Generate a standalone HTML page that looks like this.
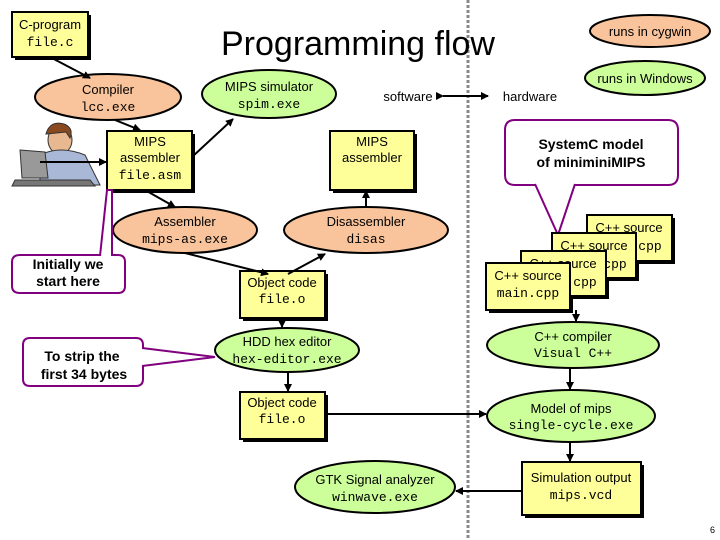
<!DOCTYPE html>
<html><head><meta charset="utf-8"><style>
body{margin:0;background:#fff}
svg{display:block}
text{font-family:"Liberation Sans",sans-serif;fill:#000}
.m{font-family:"Liberation Mono",monospace}
.b{fill:#ffff99;stroke:#000;stroke-width:2}
.o{fill:#f9c49b;stroke:#000;stroke-width:2}
.g{fill:#ccff99;stroke:#000;stroke-width:2}
.l{stroke:#000;stroke-width:2;fill:none}
.c{fill:#fff;stroke:#800080;stroke-width:2}
</style></head><body>
<svg width="720" height="540" viewBox="0 0 720 540">
<defs><marker id="a" markerWidth="8" markerHeight="8" refX="7" refY="4" orient="auto" markerUnits="userSpaceOnUse"><path d="M0,0 L8,4 L0,8z" fill="#000"/></marker></defs>
<line x1="468" y1="0" x2="468" y2="540" stroke="#888" stroke-width="3" stroke-dasharray="3,2"/>
<text x="358" y="55" font-size="34" text-anchor="middle">Programming flow</text>

<g fill="#000">
<rect x="15" y="15" width="76" height="45"/>
<rect x="110" y="134" width="85" height="59"/>
<rect x="333" y="134" width="84" height="59"/>
<rect x="243" y="274" width="85" height="47"/>
<rect x="243" y="395" width="85" height="47"/>
<rect x="590" y="218" width="85" height="46"/>
<rect x="555" y="236" width="84" height="45"/>
<rect x="524" y="254" width="85" height="45"/>
<rect x="489" y="266" width="84" height="47"/>
<rect x="525" y="465" width="119" height="53"/>
</g>

<g font-size="13" text-anchor="middle">
<rect class="b" x="12" y="12" width="76" height="45"/>
<text x="50" y="29">C-program</text><text class="m" x="50" y="46">file.c</text>

<ellipse class="o" cx="650" cy="31" rx="60" ry="16"/><text x="650" y="36">runs in cygwin</text>
<ellipse class="g" cx="645" cy="78" rx="60" ry="17"/><text x="645" y="83">runs in Windows</text>

<ellipse class="o" cx="108" cy="97" rx="73" ry="23"/><text x="108" y="94">Compiler</text><text class="m" x="108" y="111">lcc.exe</text>
<ellipse class="g" cx="269" cy="94" rx="67" ry="24"/><text x="269" y="91">MIPS simulator</text><text class="m" x="269" y="108">spim.exe</text>

<text x="408" y="101">software</text><text x="530" y="101">hardware</text>
<line class="l" x1="443" y1="96" x2="488" y2="96" marker-end="url(#a)" marker-start="url(#a)"/>

<rect class="b" x="107" y="131" width="85" height="59"/>
<text x="150" y="146">MIPS</text><text x="150" y="162">assembler</text><text class="m" x="150" y="179">file.asm</text>
<rect class="b" x="330" y="131" width="84" height="59"/>
<text x="372" y="146">MIPS</text><text x="372" y="162">assembler</text>

<ellipse class="o" cx="185" cy="230" rx="72" ry="23"/><text x="185" y="226">Assembler</text><text class="m" x="185" y="243">mips-as.exe</text>
<ellipse class="o" cx="366" cy="230" rx="82" ry="23"/><text x="366" y="226">Disassembler</text><text class="m" x="366" y="243">disas</text>

<rect class="b" x="240" y="271" width="85" height="47"/><text x="282" y="287">Object code</text><text class="m" x="282" y="303">file.o</text>
<ellipse class="g" cx="287" cy="350" rx="72" ry="22"/><text x="287" y="346">HDD hex editor</text><text class="m" x="287" y="363">hex-editor.exe</text>
<rect class="b" x="240" y="392" width="85" height="47"/><text x="282" y="407">Object code</text><text class="m" x="282" y="423">file.o</text>
<ellipse class="g" cx="375" cy="487" rx="80" ry="26"/><text x="375" y="484">GTK Signal analyzer</text><text class="m" x="375" y="501">winwave.exe</text>

<path class="c" d="M20,255 H118 Q125,255 125,262 V286 Q125,293 118,293 H20 Q12,293 12,286 V262 Q12,255 20,255 Z"/>
<path d="M100,256 L107,190 L112,190 L112,256" fill="#fff" stroke="#800080" stroke-width="2"/>
<text x="68" y="269" font-weight="bold" font-size="14">Initially we</text><text x="68" y="286" font-weight="bold" font-size="14">start here</text>
<path class="c" d="M30,338 H136 Q143,338 143,345 V379 Q143,386 136,386 H30 Q23,386 23,379 V345 Q23,338 30,338 Z"/>
<path d="M142,348 L215,357 L142,366" fill="#fff" stroke="#800080" stroke-width="2"/>
<text x="82" y="361" font-weight="bold" font-size="14">To strip the</text><text x="84" y="379" font-weight="bold" font-size="14">first 34 bytes</text>

<path class="c" d="M515,120 H668 Q678,120 678,130 V175 Q678,185 668,185 H515 Q505,185 505,175 V130 Q505,120 515,120 Z"/>
<path d="M535,184 L558,235 L575,184" fill="#fff" stroke="#800080" stroke-width="2"/>
<text x="591" y="149" font-weight="bold" font-size="14">SystemC model</text><text x="591" y="167" font-weight="bold" font-size="14">of miniminiMIPS</text>

<rect class="b" x="587" y="215" width="85" height="46"/><text x="629" y="232">C++ source</text><text class="m" x="650" y="250">cpp</text>
<rect class="b" x="552" y="233" width="84" height="45"/><text x="594" y="250">C++ source</text><text class="m" x="615" y="268">cpp</text>
<rect class="b" x="521" y="251" width="85" height="45"/><text x="563" y="268">C++ source</text><text class="m" x="585" y="286">cpp</text>
<rect class="b" x="486" y="263" width="84" height="47"/><text x="528" y="280">C++ source</text><text class="m" x="528" y="297">main.cpp</text>

<ellipse class="g" cx="573" cy="345" rx="86" ry="23"/><text x="573" y="341">C++ compiler</text><text class="m" x="573" y="357">Visual C++</text>
<ellipse class="g" cx="571" cy="416" rx="84" ry="26"/><text x="571" y="413">Model of mips</text><text class="m" x="571" y="429">single-cycle.exe</text>
<rect class="b" x="522" y="462" width="119" height="53"/><text x="581" y="482">Simulation output</text><text class="m" x="581" y="499">mips.vcd</text>
</g>

<g fill="#dde4ee" stroke="#333" stroke-width="1">
<ellipse cx="60" cy="140" rx="12" ry="14" fill="#e8b890"/>
<path d="M46,134 Q50,120 64,124 Q74,128 70,138 L66,132 Z" fill="#8a4a20"/>
<path d="M40,155 Q60,145 85,155 L100,185 L40,185 Z" fill="#aab8d8"/>
<path d="M20,150 L45,152 L48,178 L22,178 Z" fill="#999"/>
<path d="M15,180 L90,180 L95,186 L12,186 Z" fill="#777"/>
</g>

<g class="l">
<line x1="50" y1="57" x2="90" y2="78" marker-end="url(#a)"/>
<line x1="115" y1="120" x2="140" y2="130" marker-end="url(#a)"/>
<line x1="192" y1="157" x2="233" y2="119" marker-end="url(#a)"/>
<line x1="40" y1="162" x2="106" y2="162" marker-end="url(#a)"/>
<line x1="145" y1="190" x2="175" y2="207" marker-end="url(#a)"/>
<line x1="185" y1="253" x2="268" y2="274" marker-end="url(#a)"/>
<line x1="288" y1="274" x2="325" y2="254" marker-end="url(#a)"/>
<line x1="366" y1="207" x2="366" y2="191" marker-end="url(#a)"/>
<line x1="282" y1="318" x2="282" y2="327" marker-end="url(#a)"/>
<line x1="288" y1="372" x2="288" y2="391" marker-end="url(#a)"/>
<line x1="325" y1="414" x2="486" y2="414" marker-end="url(#a)"/>
<line x1="576" y1="310" x2="576" y2="321" marker-end="url(#a)"/>
<line x1="570" y1="368" x2="570" y2="389" marker-end="url(#a)"/>
<line x1="570" y1="442" x2="570" y2="461" marker-end="url(#a)"/>
<line x1="522" y1="491" x2="456" y2="491" marker-end="url(#a)"/>
</g>
<text x="710" y="533" font-size="9">6</text>
</svg>
</body></html>
